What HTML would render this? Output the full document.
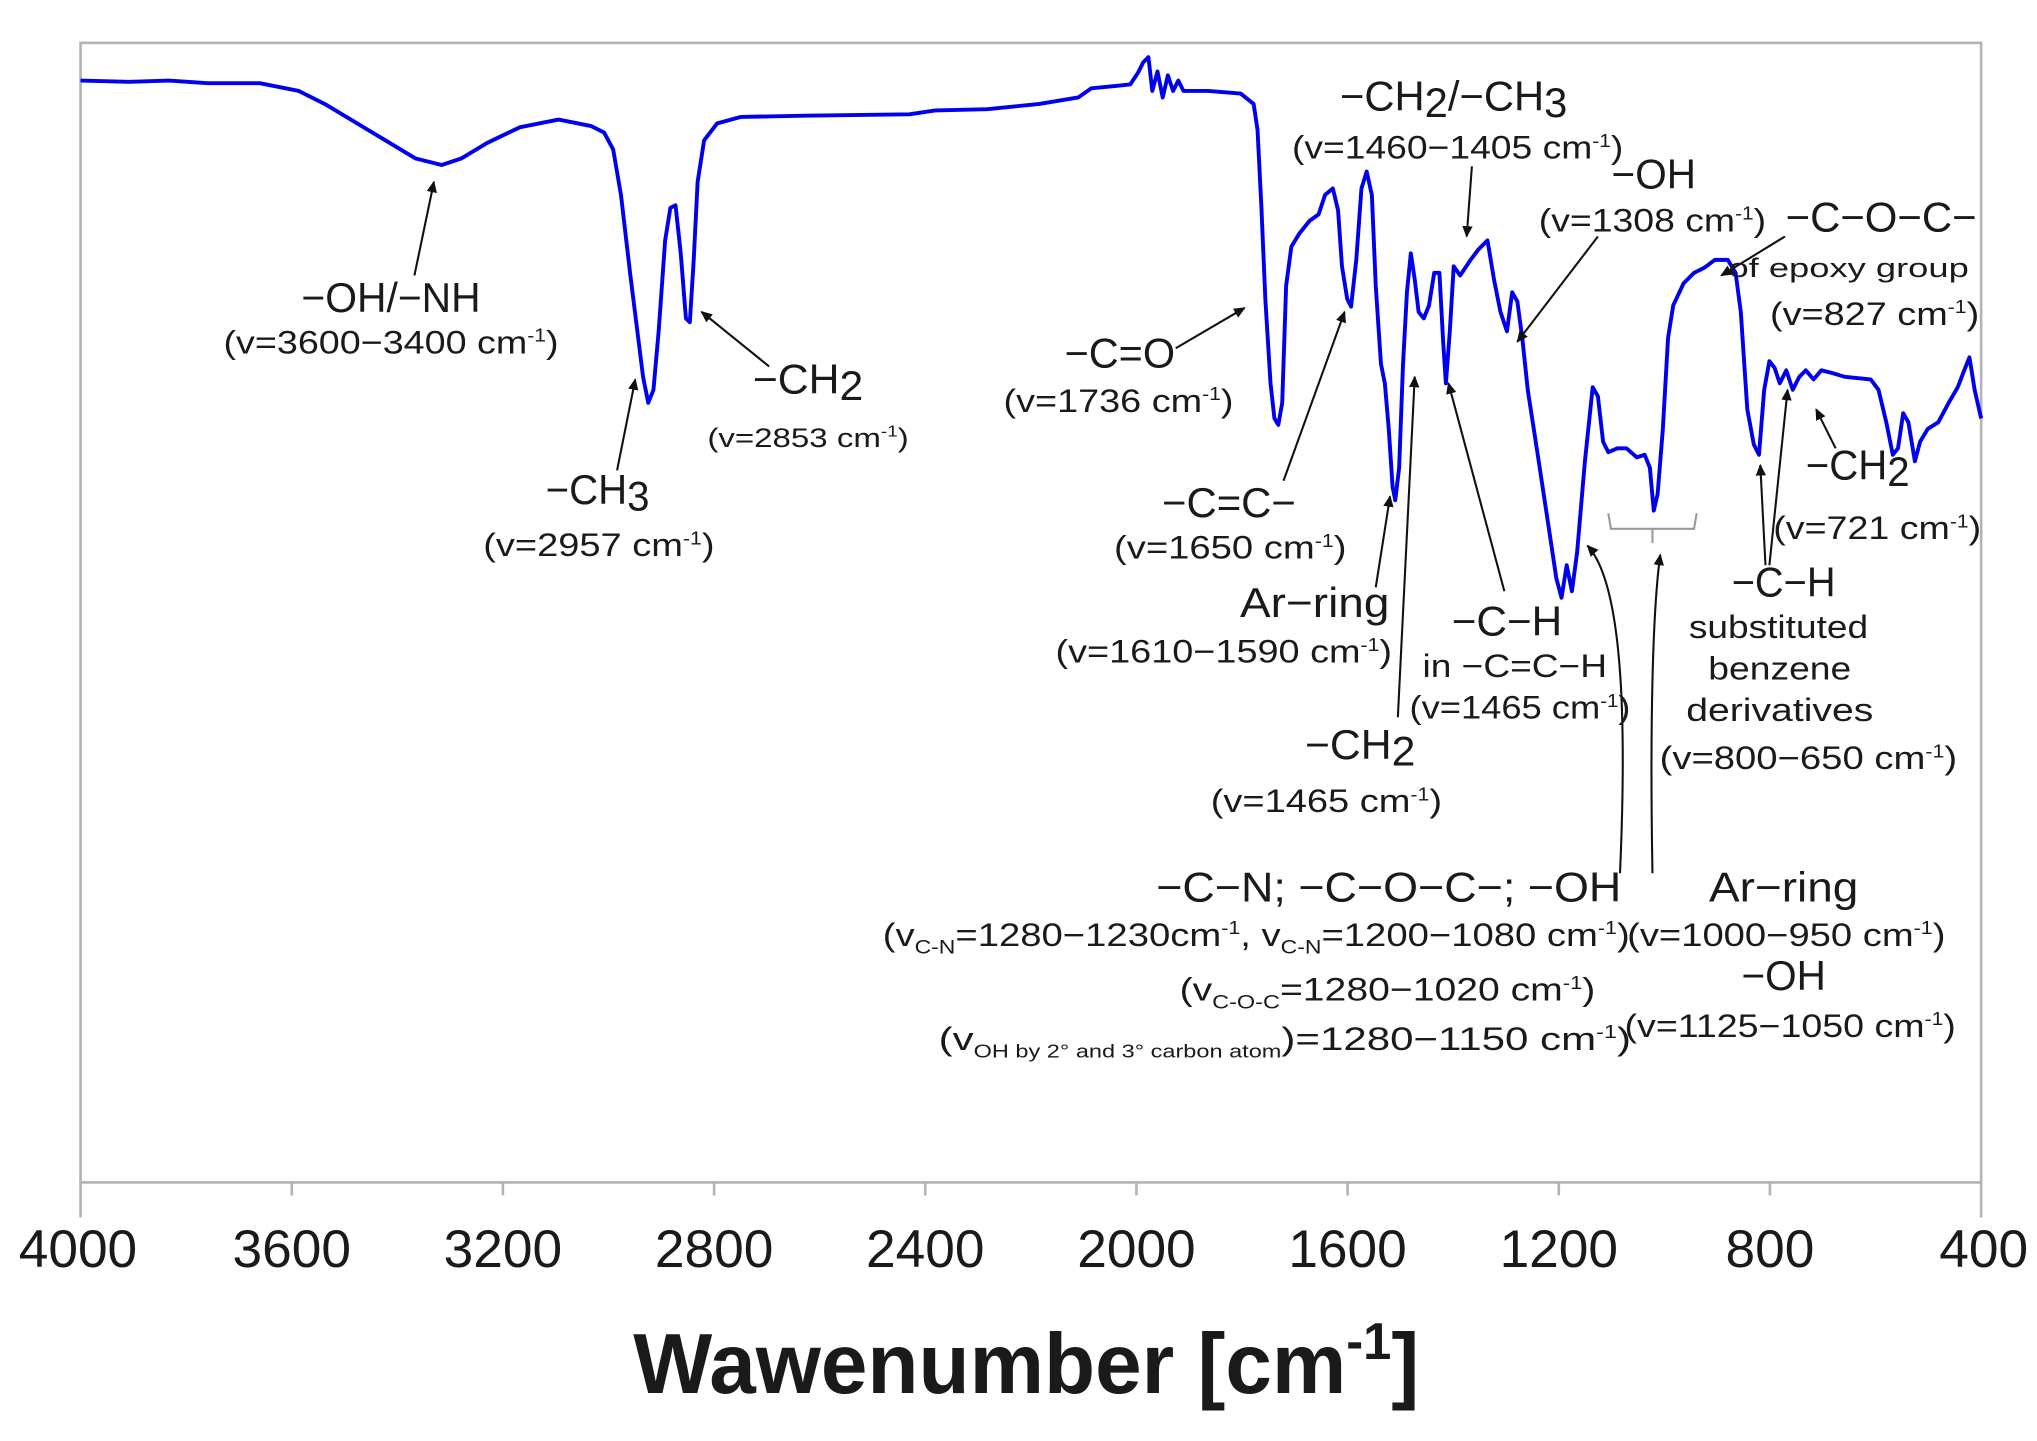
<!DOCTYPE html>
<html><head><meta charset="utf-8"><style>
html,body{margin:0;padding:0;background:#fff;}
svg{display:block;}
text{font-family:"Liberation Sans",Arial,sans-serif;fill:#1a1a1a;}
.lb{font-size:32px;}
.sm{font-size:25px;}
.xs{font-size:21px;}
</style></head><body>
<svg width="2037" height="1441" viewBox="0 0 1568 1109" preserveAspectRatio="none" xmlns="http://www.w3.org/2000/svg">
<defs><marker id="ah" markerWidth="10" markerHeight="10" refX="8" refY="5" orient="auto" markerUnits="userSpaceOnUse"><path d="M0,1 L9,5 L0,9 z" fill="#111"/></marker></defs>
<rect x="62" y="33" width="1463" height="877" fill="none" stroke="#b3b3b3" stroke-width="2"/>
<g stroke="#b3b3b3" stroke-width="2">
<line x1="62" y1="910" x2="62" y2="937"/><line x1="224.6" y1="910" x2="224.6" y2="920"/><line x1="387.1" y1="910" x2="387.1" y2="920"/><line x1="549.7" y1="910" x2="549.7" y2="920"/><line x1="712.2" y1="910" x2="712.2" y2="920"/><line x1="874.8" y1="910" x2="874.8" y2="920"/><line x1="1037.3" y1="910" x2="1037.3" y2="920"/><line x1="1199.9" y1="910" x2="1199.9" y2="920"/><line x1="1362.4" y1="910" x2="1362.4" y2="920"/><line x1="1525" y1="910" x2="1525" y2="937"/>
</g>
<g font-size="41" text-anchor="middle">
<text x="60" y="975">4000</text><text x="224.6" y="975">3600</text><text x="387.1" y="975">3200</text><text x="549.7" y="975">2800</text><text x="712.2" y="975">2400</text><text x="874.8" y="975">2000</text><text x="1037.3" y="975">1600</text><text x="1199.9" y="975">1200</text><text x="1362.4" y="975">800</text><text x="1527" y="975">400</text>
</g>
<text x="790" y="1072" text-anchor="middle" font-size="66" font-weight="bold" textLength="605" lengthAdjust="spacingAndGlyphs">Wawenumber [cm<tspan font-size="40" dy="-26">-1</tspan><tspan dy="26">]</tspan></text>

<polyline fill="none" stroke="#0000ee" stroke-width="3" stroke-linejoin="round" points="62,62 100,63 130,62 160,64 200,64 230,70 250,80 275,95 300,110 320,122 340,127 355,122 375,110 400,98 430,92 455,97 465,102 472,115 478,150 485,210 490,250 495,290 499,310 503,300 507,255 512,185 516,160 520,158 524,195 528,245 531,248 534,200 537,140 542,108 552,95 570,90 620,89 700,88 720,85 760,84 800,80 830,75 840,68 860,66 870,65 876,56 880,48 884,44 887,70 891,55 895,75 899,58 903,70 907,62 911,70 930,70 955,72 965,80 968,100 971,160 974,230 978,295 981,322 984,327 987,310 990,220 994,190 1000,180 1008,170 1015,165 1020,150 1026,145 1030,162 1033,205 1037,230 1040,236 1044,200 1048,145 1052,132 1056,150 1059,220 1063,280 1066,295 1069,330 1072,375 1074,385 1077,360 1080,280 1083,225 1086,195 1089,215 1092,240 1096,245 1100,235 1104,210 1108,210 1111,265 1113,295 1116,255 1119,205 1124,212 1132,200 1138,192 1145,185 1150,215 1155,240 1160,255 1164,225 1168,232 1172,262 1176,300 1184,352 1192,405 1198,445 1202,460 1206,435 1210,455 1214,425 1220,355 1226,298 1230,305 1234,340 1238,348 1245,345 1252,345 1260,352 1266,350 1270,360 1273,393 1276,380 1280,330 1284,260 1288,235 1296,218 1304,210 1312,206 1320,200 1330,200 1336,210 1340,240 1345,315 1350,342 1354,350 1358,300 1362,278 1366,283 1370,295 1375,285 1380,300 1385,290 1390,285 1396,292 1402,285 1410,287 1420,290 1440,292 1446,300 1452,325 1457,350 1461,345 1465,318 1469,325 1474,355 1478,340 1484,330 1492,325 1500,310 1507,298 1512,285 1516,275 1520,300 1525,322"/>

<g stroke="#111" stroke-width="1.6" fill="none" marker-end="url(#ah)">
<line x1="319" y1="212" x2="334" y2="140"/>
<line x1="475" y1="362" x2="489" y2="292"/>
<line x1="592" y1="282" x2="540" y2="240"/>
<line x1="905" y1="268" x2="958" y2="237"/>
<line x1="1133" y1="128" x2="1129" y2="182"/>
<line x1="1230" y1="182" x2="1168" y2="263"/>
<line x1="1374" y1="182" x2="1325" y2="212"/>
<line x1="988" y1="370" x2="1035" y2="240"/>
<line x1="1059" y1="452" x2="1070" y2="382"/>
<line x1="1158" y1="455" x2="1115" y2="295"/>
<line x1="1076" y1="552" x2="1089" y2="290"/>
<path d="M1247,672 C1252,560 1250,450 1222,420"/>
<path d="M1272,672 C1270,560 1272,470 1278,427"/>
<line x1="1359" y1="435" x2="1355" y2="358"/>
<line x1="1362" y1="435" x2="1376" y2="300"/>
<line x1="1413" y1="345" x2="1398" y2="315"/>
</g>
<path d="M1238,395 L1240,407 L1304,407 L1306,395 M1272,407 L1272,418" fill="none" stroke="#999" stroke-width="1.6"/>

<g text-anchor="middle" lengthAdjust="spacingAndGlyphs">
<text class="lb" x="301" y="240" textLength="138" lengthAdjust="spacingAndGlyphs">−OH/−NH</text>
<text class="sm" x="301" y="272" textLength="258" lengthAdjust="spacingAndGlyphs">(v=3600−3400 cm<tspan font-size="14" dy="-9">-1</tspan><tspan dy="9">)</tspan></text>
<text class="lb" x="460" y="388" textLength="80" lengthAdjust="spacingAndGlyphs">−CH<tspan dy="5">3</tspan></text>
<text class="sm" x="461" y="428" textLength="178" lengthAdjust="spacingAndGlyphs">(v=2957 cm<tspan font-size="14" dy="-9">-1</tspan><tspan dy="9">)</tspan></text>
<text class="lb" x="622" y="303" textLength="85" lengthAdjust="spacingAndGlyphs">−CH<tspan dy="5">2</tspan></text>
<text class="xs" x="622" y="344" textLength="155" lengthAdjust="spacingAndGlyphs">(v=2853 cm<tspan font-size="12" dy="-8">-1</tspan><tspan dy="8">)</tspan></text>
<text class="lb" x="862" y="283" textLength="85" lengthAdjust="spacingAndGlyphs">−C=O</text>
<text class="sm" x="861" y="317" textLength="177" lengthAdjust="spacingAndGlyphs">(v=1736 cm<tspan font-size="14" dy="-9">-1</tspan><tspan dy="9">)</tspan></text>
<text class="lb" x="1119" y="85" textLength="175" lengthAdjust="spacingAndGlyphs">−CH<tspan dy="5">2</tspan><tspan dy="-5">/−CH</tspan><tspan dy="5">3</tspan></text>
<text class="sm" x="1122" y="122" textLength="255" lengthAdjust="spacingAndGlyphs">(v=1460−1405 cm<tspan font-size="14" dy="-9">-1</tspan><tspan dy="9">)</tspan></text>
<text class="lb" x="1273" y="145" textLength="65" lengthAdjust="spacingAndGlyphs">−OH</text>
<text class="sm" x="1272" y="178" textLength="175" lengthAdjust="spacingAndGlyphs">(v=1308 cm<tspan font-size="14" dy="-9">-1</tspan><tspan dy="9">)</tspan></text>
<text class="lb" x="1448" y="178" textLength="147" lengthAdjust="spacingAndGlyphs">−C−O−C−</text>
<text class="xs" x="1423" y="213" textLength="185" lengthAdjust="spacingAndGlyphs">of epoxy group</text>
<text class="sm" x="1443" y="250" textLength="161" lengthAdjust="spacingAndGlyphs">(v=827 cm<tspan font-size="14" dy="-9">-1</tspan><tspan dy="9">)</tspan></text>
<text class="lb" x="946" y="398" textLength="103" lengthAdjust="spacingAndGlyphs">−C=C−</text>
<text class="sm" x="947" y="430" textLength="179" lengthAdjust="spacingAndGlyphs">(v=1650 cm<tspan font-size="14" dy="-9">-1</tspan><tspan dy="9">)</tspan></text>
<text class="lb" x="1012" y="475" textLength="115" lengthAdjust="spacingAndGlyphs">Ar−ring</text>
<text class="sm" x="942" y="510" textLength="259" lengthAdjust="spacingAndGlyphs">(v=1610−1590 cm<tspan font-size="14" dy="-9">-1</tspan><tspan dy="9">)</tspan></text>
<text class="lb" x="1160" y="489" textLength="85" lengthAdjust="spacingAndGlyphs">−C−H</text>
<text class="sm" x="1166" y="521" textLength="142" lengthAdjust="spacingAndGlyphs">in −C=C−H</text>
<text class="sm" x="1170" y="553" textLength="170" lengthAdjust="spacingAndGlyphs">(v=1465 cm<tspan font-size="14" dy="-9">-1</tspan><tspan dy="9">)</tspan></text>
<text class="lb" x="1047" y="584" textLength="85" lengthAdjust="spacingAndGlyphs">−CH<tspan dy="5">2</tspan></text>
<text class="sm" x="1021" y="625" textLength="178" lengthAdjust="spacingAndGlyphs">(v=1465 cm<tspan font-size="14" dy="-9">-1</tspan><tspan dy="9">)</tspan></text>
<text class="lb" x="1069" y="694" textLength="358" lengthAdjust="spacingAndGlyphs">−C−N;  −C−O−C−;  −OH</text>
<text class="sm" x="967" y="728" textLength="575" lengthAdjust="spacingAndGlyphs">(v<tspan font-size="15" dy="6">C-N</tspan><tspan dy="-6">=1280−1230cm</tspan><tspan font-size="14" dy="-9">-1</tspan><tspan dy="9">, v</tspan><tspan font-size="15" dy="6">C-N</tspan><tspan dy="-6">=1200−1080 cm</tspan><tspan font-size="14" dy="-9">-1</tspan><tspan dy="9">)</tspan></text>
<text class="sm" x="1068" y="770" textLength="320" lengthAdjust="spacingAndGlyphs">(v<tspan font-size="15" dy="6">C-O-C</tspan><tspan dy="-6">=1280−1020 cm</tspan><tspan font-size="14" dy="-9">-1</tspan><tspan dy="9">)</tspan></text>
<text class="sm" x="989" y="808" textLength="533" lengthAdjust="spacingAndGlyphs">(v<tspan font-size="14" dy="6">OH by 2° and 3° carbon atom</tspan><tspan dy="-6">)=1280−1150 cm</tspan><tspan font-size="14" dy="-9">-1</tspan><tspan dy="9">)</tspan></text>
<text class="lb" x="1373" y="694" textLength="115" lengthAdjust="spacingAndGlyphs">Ar−ring</text>
<text class="sm" x="1375" y="728" textLength="245" lengthAdjust="spacingAndGlyphs">(v=1000−950 cm<tspan font-size="14" dy="-9">-1</tspan><tspan dy="9">)</tspan></text>
<text class="lb" x="1373" y="762" textLength="65" lengthAdjust="spacingAndGlyphs">−OH</text>
<text class="sm" x="1378" y="798" textLength="255" lengthAdjust="spacingAndGlyphs">(v=1125−1050 cm<tspan font-size="14" dy="-9">-1</tspan><tspan dy="9">)</tspan></text>
<text class="lb" x="1373" y="459" textLength="80" lengthAdjust="spacingAndGlyphs">−C−H</text>
<text class="sm" x="1369" y="491" textLength="138" lengthAdjust="spacingAndGlyphs">substituted</text>
<text class="sm" x="1370" y="523" textLength="110" lengthAdjust="spacingAndGlyphs">benzene</text>
<text class="sm" x="1370" y="555" textLength="144" lengthAdjust="spacingAndGlyphs">derivatives</text>
<text class="sm" x="1392" y="592" textLength="229" lengthAdjust="spacingAndGlyphs">(v=800−650 cm<tspan font-size="14" dy="-9">-1</tspan><tspan dy="9">)</tspan></text>
<text class="lb" x="1430" y="369" textLength="80" lengthAdjust="spacingAndGlyphs">−CH<tspan dy="5">2</tspan></text>
<text class="sm" x="1445" y="415" textLength="160" lengthAdjust="spacingAndGlyphs">(v=721 cm<tspan font-size="14" dy="-9">-1</tspan><tspan dy="9">)</tspan></text>
</g>
</svg>
</body></html>
